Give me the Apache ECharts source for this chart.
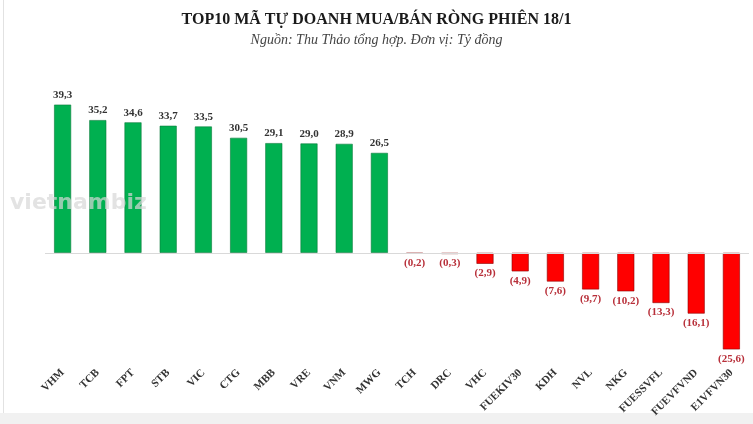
<!DOCTYPE html>
<html><head><meta charset="utf-8">
<script src="https://cdn.jsdelivr.net/npm/echarts@6/dist/echarts.min.js"></script>
<style>html,body{margin:0;padding:0;background:#fff}#c{width:753px;height:424px}</style>
</head><body><div id="c"></div>
<script>
const categories = ['VHM','TCB','FPT','STB','VIC','CTG','MBB','VRE','VNM','MWG','TCH','DRC','VHC','FUEKIV30','KDH','NVL','NKG','FUESSVFL','FUEVFVND','E1VFVN30'];
const values = [39.3,35.2,34.6,33.7,33.5,30.5,29.1,29.0,28.9,26.5,-0.2,-0.3,-2.9,-4.9,-7.6,-9.7,-10.2,-13.3,-16.1,-25.6];
const titleText = 'TOP10 MÃ TỰ DOANH MUA/BÁN RÒNG PHIÊN 18/1';
const subtitleText = 'Nguồn: Thu Thảo tổng hợp. Đơn vị: Tỷ đồng';

function fmt(v){ const s = Math.abs(v).toFixed(1).replace('.', ','); return v < 0 ? '(' + s + ')' : s; }

const chart = echarts.init(document.getElementById('c'));
chart.setOption({
  backgroundColor: '#fff',
  animation: false,
  title: {
    text: titleText, subtext: subtitleText, left: 'center', top: 7, itemGap: 5,
    textStyle: {fontFamily: 'Liberation Serif', fontWeight: 'bold', fontSize: 16, color: '#1a1a1a'},
    subtextStyle: {fontFamily: 'Liberation Serif', fontStyle: 'italic', fontSize: 14, color: '#444'}
  },
  graphic: [
    {type: 'rect', shape: {x: 3, y: 0, width: 1, height: 424}, style: {fill: '#e2e2e2'}, silent: true},
    {type: 'rect', shape: {x: 0, y: 413, width: 753, height: 11}, style: {fill: '#f1f1f1'}, silent: true},
    {type: 'text', left: 10, top: 192, z: 10, style: {text: 'vietnambiz', fontSize: 22, fontFamily: 'DejaVu Sans', fontWeight: 'bold', fill: 'rgba(215,215,215,0.7)'}, silent: true}
  ],
  grid: {left: 45, right: 4, top: 102, bottom: 58},
  xAxis: {
    type: 'category', data: categories,
    axisLine: {show: false, onZero: false}, axisTick: {show: false},
    axisLabel: {rotate: 45, interval: 0, margin: 5, fontFamily: 'Liberation Serif', fontWeight: 'bold', fontSize: 11, color: '#333'}
  },
  yAxis: {type: 'value', min: -30, max: 40, show: false, splitLine: {show: false}},
  series: [{
    type: 'bar', barWidth: 17,
    data: values.map(v => ({
      value: v,
      itemStyle: {color: v >= 0 ? '#00b050' : '#ff0000', borderColor: v >= 0 ? '#0a7a3a' : '#8a0000', borderWidth: 0.6},
      label: {position: v >= 0 ? 'top' : 'bottom', color: v >= 0 ? '#333' : '#b8303a'}
    })),
    label: {show: true, distance: 4, fontFamily: 'Liberation Serif', fontWeight: 'bold', fontSize: 11, formatter: p => fmt(p.value)},
    markLine: {silent: true, symbol: 'none', label: {show: false}, lineStyle: {color: '#d9d9d9', type: 'solid', width: 1}, data: [{yAxis: 0}]}
  }]
});
</script></body></html>
